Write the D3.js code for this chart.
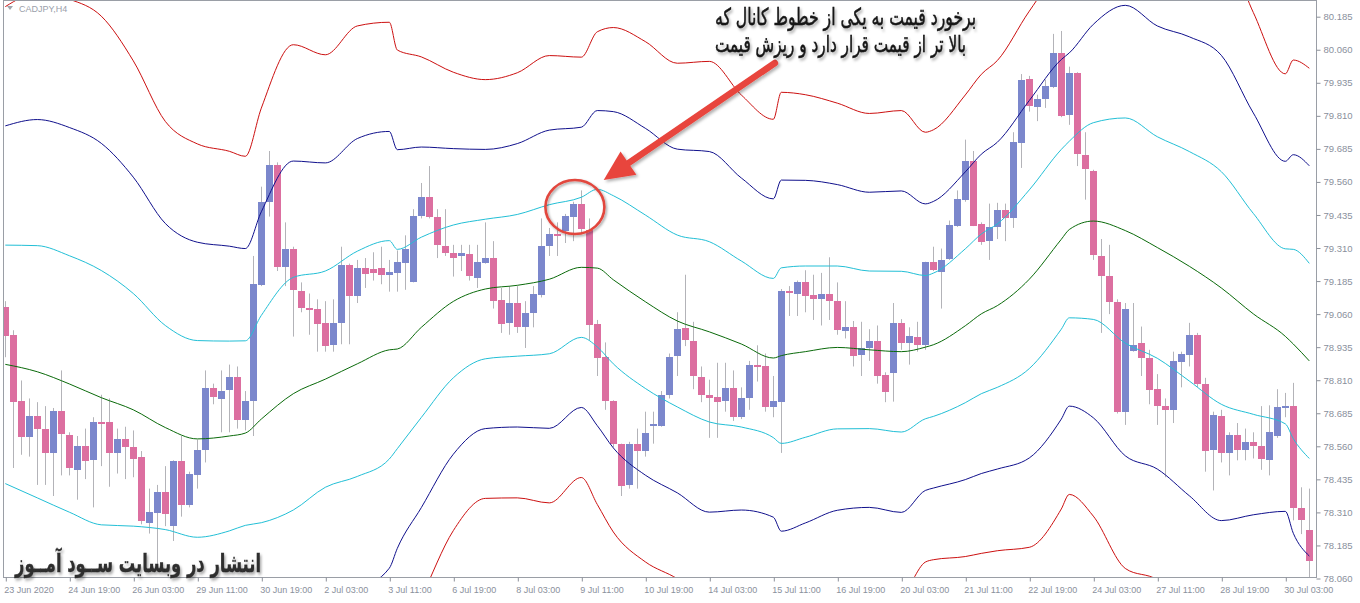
<!DOCTYPE html>
<html><head><meta charset="utf-8">
<script src="https://cdn.jsdelivr.net/npm/d3@7"></script>
<style>html,body{margin:0;padding:0;background:#fff;overflow:hidden}svg{display:block}</style>
</head><body>
<svg id="c" width="1360" height="603"></svg>
<script>
// ---------------- DATA ----------------
const symbolLabel = "CADJPY,H4";
const timeTickIdx = [0,8,16,24,32,40,48,56,64,72,80,88,96,104,112,120,128,136,144,152,160];
const timeLabels = ["23 Jun 2020","24 Jun 19:00","26 Jun 03:00","29 Jun 11:00","30 Jun 19:00","2 Jul 03:00","3 Jul 11:00","6 Jul 19:00","8 Jul 03:00","9 Jul 11:00","10 Jul 19:00","14 Jul 03:00","15 Jul 11:00","16 Jul 19:00","20 Jul 03:00","21 Jul 11:00","22 Jul 19:00","24 Jul 03:00","27 Jul 11:00","28 Jul 19:00","30 Jul 03:00"];
const priceTicks = [78.060,78.185,78.310,78.435,78.560,78.685,78.810,78.935,79.060,79.185,79.310,79.435,79.560,79.685,79.810,79.935,80.060,80.185];

const open = [79.088,78.982,78.731,78.595,78.673,78.627,78.535,78.694,78.603,78.474,78.563,78.511,78.653,78.653,78.535,78.588,78.559,78.518,78.272,78.308,78.386,78.258,78.503,78.336,78.450,78.545,78.780,78.738,78.772,78.823,78.659,78.731,79.170,79.483,79.624,79.237,79.305,79.149,79.084,79.081,79.027,78.942,79.024,79.244,79.128,79.234,79.231,79.234,79.206,79.213,79.251,79.185,79.432,79.502,79.426,79.319,79.291,79.280,79.287,79.197,79.256,79.274,79.112,79.028,79.102,79.010,79.064,79.135,79.315,79.362,79.376,79.426,79.475,79.379,79.021,78.897,78.731,78.567,78.411,78.567,78.542,78.638,78.638,78.755,78.899,79.007,78.960,78.823,78.755,78.748,78.729,78.780,78.670,78.743,78.866,78.862,78.708,78.731,79.149,79.138,79.183,79.131,79.116,79.135,79.109,78.996,79.013,78.904,78.932,78.960,78.829,78.836,79.027,78.951,78.975,78.942,79.256,79.220,79.268,79.393,79.493,79.641,79.400,79.336,79.390,79.453,79.422,79.708,79.951,79.843,79.873,79.921,80.049,79.812,79.972,79.660,79.603,79.280,79.206,79.104,78.691,78.922,78.951,78.894,78.776,78.712,78.698,78.876,78.908,78.982,78.797,78.545,78.674,78.535,78.603,78.546,78.575,78.561,78.511,78.599,78.708,78.712,78.325,78.244];
const high = [79.109,78.999,78.809,78.741,78.727,78.712,78.705,78.847,78.613,78.599,78.627,78.670,78.755,78.741,78.627,78.634,78.620,78.542,78.400,78.414,78.485,78.507,78.599,78.464,78.585,78.847,78.797,78.847,78.869,78.862,78.769,79.280,79.542,79.677,79.634,79.407,79.315,79.180,79.138,79.116,79.109,79.116,79.315,79.251,79.265,79.272,79.294,79.315,79.265,79.301,79.358,79.457,79.556,79.620,79.457,79.457,79.322,79.322,79.322,79.322,79.407,79.336,79.159,79.166,79.166,79.109,79.166,79.422,79.386,79.407,79.439,79.485,79.528,79.422,79.038,78.953,78.734,78.570,78.577,78.627,78.691,78.691,78.769,78.911,79.067,79.209,79.031,78.862,78.812,78.876,78.876,78.847,78.783,78.883,78.942,78.911,78.826,79.155,79.166,79.187,79.226,79.209,79.216,79.275,79.180,79.109,79.034,79.031,79.003,79.017,78.840,79.102,79.041,79.010,79.031,79.258,79.315,79.308,79.414,79.528,79.720,79.677,79.407,79.478,79.481,79.478,79.748,79.968,79.961,79.890,79.947,80.120,80.131,79.996,79.975,79.748,79.606,79.344,79.322,79.116,79.102,79.102,79.013,78.925,78.833,78.741,78.918,78.918,79.027,78.989,78.819,78.691,78.698,78.613,78.648,78.627,78.613,78.712,78.715,78.776,78.762,78.800,78.405,78.400];
const low = [78.897,78.478,78.528,78.521,78.414,78.414,78.372,78.450,78.450,78.358,78.436,78.329,78.485,78.407,78.457,78.436,78.443,78.265,78.230,78.088,78.258,78.202,78.294,78.329,78.400,78.499,78.719,78.613,78.613,78.627,78.620,78.599,79.166,79.429,79.223,79.166,78.975,79.067,78.982,78.918,78.918,78.918,78.946,78.946,79.102,79.159,79.187,79.173,79.145,79.145,79.152,79.180,79.422,79.422,79.272,79.280,79.202,79.223,79.187,79.159,79.251,79.081,78.989,78.982,78.989,78.932,79.010,79.123,79.280,79.280,79.329,79.336,79.365,78.960,78.826,78.698,78.556,78.372,78.400,78.400,78.521,78.570,78.634,78.741,78.826,78.939,78.776,78.727,78.592,78.592,78.691,78.656,78.663,78.698,78.805,78.691,78.670,78.535,79.053,79.053,79.067,79.038,79.017,79.038,78.982,78.968,78.862,78.826,78.883,78.797,78.727,78.729,78.925,78.869,78.918,78.925,79.223,79.081,79.265,79.390,79.485,79.393,79.322,79.265,79.344,79.336,79.386,79.613,79.826,79.790,79.840,79.915,79.805,79.776,79.620,79.493,79.265,78.989,79.060,78.684,78.641,78.918,78.826,78.719,78.641,78.443,78.648,78.783,78.862,78.783,78.464,78.393,78.499,78.450,78.507,78.507,78.514,78.471,78.450,78.592,78.670,78.280,78.228,78.031];
const close = [78.979,78.727,78.595,78.673,78.624,78.538,78.694,78.606,78.478,78.563,78.507,78.653,78.644,78.535,78.588,78.556,78.514,78.276,78.312,78.386,78.301,78.503,78.336,78.454,78.545,78.780,78.745,78.769,78.823,78.659,78.731,79.173,79.485,79.624,79.237,79.305,79.149,79.084,79.075,79.024,78.939,79.027,79.244,79.128,79.234,79.213,79.214,79.209,79.219,79.256,79.305,79.433,79.502,79.426,79.319,79.291,79.271,79.291,79.202,79.258,79.274,79.112,79.021,79.102,79.010,79.064,79.135,79.319,79.362,79.356,79.431,79.475,79.379,79.021,78.894,78.731,78.567,78.407,78.567,78.542,78.610,78.646,78.755,78.899,79.003,78.960,78.826,78.755,78.743,78.729,78.780,78.670,78.743,78.866,78.859,78.708,78.731,79.149,79.141,79.183,79.131,79.114,79.135,79.109,79.000,79.013,78.904,78.932,78.960,78.826,78.766,79.027,78.951,78.978,78.946,79.256,79.226,79.265,79.396,79.495,79.641,79.396,79.332,79.390,79.453,79.422,79.710,79.947,79.850,79.873,79.921,80.049,79.812,79.972,79.666,79.606,79.284,79.206,79.107,78.688,79.081,78.943,78.894,78.773,78.712,78.698,78.883,78.908,78.982,78.797,78.545,78.679,78.535,78.603,78.546,78.575,78.561,78.511,78.616,78.709,78.712,78.325,78.280,78.128];

// Bollinger-type channel: middle line and deviation read at sample bars
const bandIdx = [0,4,8,12,16,20,24,28,30,32,36,40,44,48,49,52,56,60,64,68,72,74,76,80,84,88,92,96,97,100,104,108,112,115,116,120,122,124,128,132,133,136,140,144,148,152,156,160,161,163];
const bandMid = [78.870,78.842,78.796,78.744,78.698,78.631,78.588,78.599,78.610,78.663,78.759,78.814,78.872,78.925,78.928,79.010,79.108,79.155,79.169,79.192,79.237,79.234,79.190,79.107,79.034,78.993,78.947,78.894,78.903,78.918,78.934,78.925,78.918,78.935,78.944,79.016,79.061,79.092,79.192,79.343,79.380,79.412,79.376,79.312,79.241,79.159,79.061,78.976,78.947,78.883];
const bandDev = [0.451,0.477,0.485,0.481,0.440,0.386,0.372,0.359,0.349,0.392,0.440,0.409,0.426,0.413,0.377,0.341,0.289,0.264,0.268,0.282,0.265,0.298,0.318,0.328,0.325,0.341,0.314,0.301,0.332,0.324,0.308,0.298,0.304,0.271,0.271,0.291,0.302,0.309,0.338,0.340,0.334,0.372,0.426,0.419,0.434,0.440,0.380,0.331,0.358,0.369];
const bandMult = [3,2,1,0,-1,-2,-3];

const noteLines = ["برخورد قیمت به یکی از خطوط کانال که","بالا تر از قیمت قرار دارد و ریزش قیمت"];
const watermark = "انتشار در وبسایت ســود آمــوز";
// annotation anchor points in data units [bar index, price]
const circleAt = [71.2, 79.465];
const arrowTip = [74.8, 79.567];
const arrowTail = [96.2, 80.010];

// ---------------- STYLE ----------------
const bandColors = {3:"#cc1010",2:"#10108c",1:"#22bfd6",0:"#0a6a0a"};
const bullColor = "#7b87cc", bearColor = "#dc6fa0", wickColor = "#b3b3b8";
const axisColor = "#8c9099", textColor = "#8a909c";

const svg = d3.select("#c");
const plot = {left:3, top:0, right:1316, bottom:577};

const x = d3.scaleLinear().domain([0,163]).range([5.3, 5.3+8*163]);
const y = d3.scaleLinear().domain([78.06, 80.185]).range([578.5, 16.7]);

const defs = svg.append("defs");
defs.append("clipPath").attr("id","clip").append("rect")
  .attr("x",plot.left+1).attr("y",plot.top+1).attr("width",plot.right-plot.left-1).attr("height",plot.bottom-plot.top-1);
const sh = defs.append("filter").attr("id","shadow").attr("x","-20%").attr("y","-40%").attr("width","140%").attr("height","180%");
sh.append("feDropShadow").attr("dx",1.5).attr("dy",1.5).attr("stdDeviation",1.2).attr("flood-color","#000").attr("flood-opacity",0.35);
const sh2 = defs.append("filter").attr("id","shadow2").attr("x","-20%").attr("y","-40%").attr("width","140%").attr("height","180%");
sh2.append("feDropShadow").attr("dx",2).attr("dy",2).attr("stdDeviation",1.6).attr("flood-color","#000").attr("flood-opacity",0.3);

// frame
svg.append("rect").attr("x",plot.left+0.5).attr("y",plot.top+0.5)
  .attr("width",plot.right-plot.left).attr("height",plot.bottom-plot.top)
  .attr("fill","none").attr("stroke","#9a9ea6").attr("stroke-width",1);

const g = svg.append("g").attr("clip-path","url(#clip)");

// candles
const bars = d3.range(open.length).map(i=>({i,o:open[i],h:high[i],l:low[i],c:close[i]}));
g.append("g").selectAll("line").data(bars).join("line")
  .attr("x1",d=>Math.round(x(d.i))+0.5).attr("x2",d=>Math.round(x(d.i))+0.5)
  .attr("y1",d=>y(d.h)).attr("y2",d=>y(d.l))
  .attr("stroke",wickColor).attr("stroke-width",1);
g.append("g").selectAll("rect").data(bars).join("rect")
  .attr("x",d=>Math.round(x(d.i))-3).attr("width",7)
  .attr("y",d=>Math.round(y(Math.max(d.o,d.c))))
  .attr("height",d=>Math.max(2,Math.round(Math.abs(y(d.o)-y(d.c)))))
  .attr("fill",d=>d.c>=d.o?bullColor:bearColor);

// bands
const bandPts = bandIdx.map((b,k)=>({i:b,m:bandMid[k],d:bandDev[k]}));
bandMult.forEach(m=>{
  const line = d3.line().x(p=>x(p.i)).y(p=>y(p.m+m*p.d)).curve(d3.curveMonotoneX);
  g.append("path").datum(bandPts).attr("d",line).attr("fill","none")
    .attr("stroke",bandColors[Math.abs(m)]).attr("stroke-width",1);
});

// axes
const yAxis = d3.axisRight(y).tickValues(priceTicks).tickFormat(d3.format(".3f")).tickSize(4).tickPadding(3);
const ya = svg.append("g").attr("transform",`translate(${plot.right+0.5},0)`).call(yAxis);
ya.select(".domain").remove();
ya.selectAll("line").attr("stroke",axisColor);
ya.selectAll("text").attr("fill",textColor).attr("font-family","Liberation Sans, Arial, sans-serif").attr("font-size",9.5);

const xAxis = d3.axisBottom(x).tickValues(timeTickIdx).tickFormat((d,k)=>timeLabels[k]).tickSize(4).tickPadding(5);
const xa = svg.append("g").attr("transform",`translate(0,${plot.bottom+0.5})`).call(xAxis);
xa.select(".domain").remove();
xa.selectAll("line").attr("stroke",axisColor).attr("transform","translate(0.5,0)");
xa.selectAll("text").attr("fill",textColor).attr("font-family","Liberation Sans, Arial, sans-serif").attr("font-size",9)
  .attr("text-anchor","start").attr("dx",-1.5);

// symbol label
svg.append("path").attr("d","M7,6 L13,6 L10,10 Z").attr("fill","#a0a4ac");
svg.append("text").attr("x",19).attr("y",12).text(symbolLabel)
  .attr("font-family","Liberation Sans, Arial, sans-serif").attr("font-size",9).attr("fill","#9aa0aa");

// circle annotation
svg.append("ellipse").attr("cx",x(circleAt[0])).attr("cy",y(circleAt[1])).attr("rx",29.5).attr("ry",27)
  .attr("fill","none").attr("stroke","#e2463e").attr("stroke-width",2.6).attr("filter","url(#shadow)");

// arrow
const tx=x(arrowTip[0]), ty=y(arrowTip[1]), sx=x(arrowTail[0]), sy=y(arrowTail[1]);
const len=Math.hypot(tx-sx,ty-sy), ux=(tx-sx)/len, uy=(ty-sy)/len, nx=-uy, ny=ux;
const hl=30, hw=14, bx=tx-hl*ux, by=ty-hl*uy;
const ag = svg.append("g").attr("filter","url(#shadow2)");
ag.append("line").attr("x1",sx).attr("y1",sy).attr("x2",bx+4*ux).attr("y2",by+4*uy)
  .attr("stroke","#e8443c").attr("stroke-width",6.5).attr("stroke-linecap","round");
ag.append("path").attr("d",`M${tx},${ty} L${bx+hw*nx},${by+hw*ny} L${bx-hw*nx},${by-hw*ny} Z`).attr("fill","#e8443c");

// persian texts (fit to measured widths, stretched vertically like the source font)
function placeText(str, px, py, width, sy, opts){
  const grp = svg.append("g").attr("transform",`translate(${px},${py}) scale(1,${sy})`).attr("filter","url(#shadow)");
  const t = grp.append("text").attr("x",0).attr("y",0).text(str)
    .attr("font-family","DejaVu Sans, Noto Sans, sans-serif").attr("font-size",16)
    .attr("font-weight",opts.weight).attr("fill",opts.fill)
    .attr("stroke",opts.fill).attr("stroke-width",opts.sw);
  const w = t.node().getComputedTextLength();
  t.attr("font-size",16*width/w);
  return t;
}
placeText(noteLines[0], 715, 25, 261, 1.5, {weight:"normal", fill:"#141414", sw:0.35});
placeText(noteLines[1], 715, 52, 251, 1.5, {weight:"normal", fill:"#141414", sw:0.35});
placeText(watermark, 15, 572, 246, 1.55, {weight:"bold", fill:"#2e2e2e", sw:0.2});
</script>
</body></html>
